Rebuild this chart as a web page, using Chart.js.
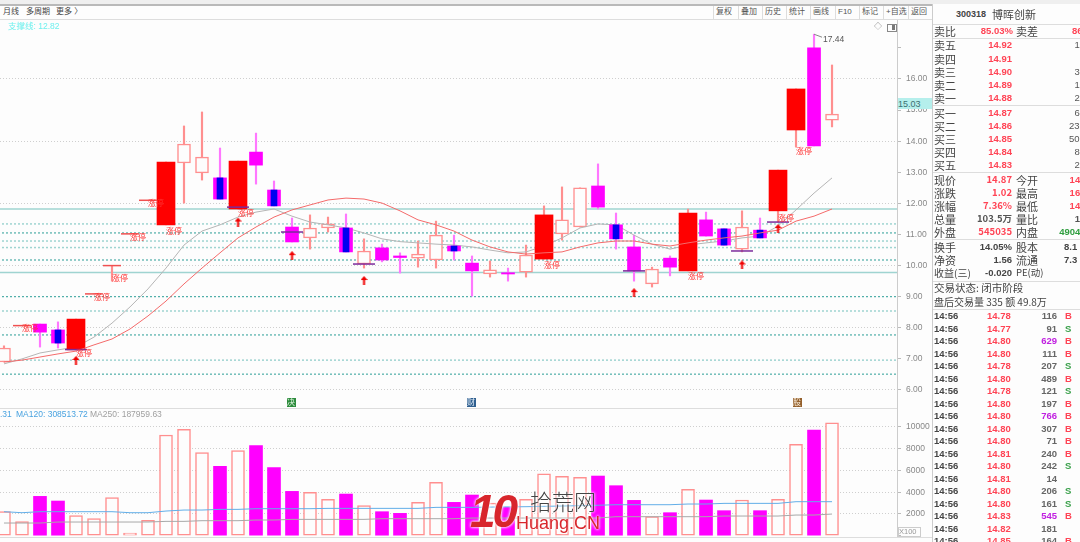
<!DOCTYPE html>
<html>
<head>
<meta charset="utf-8">
<script src="https://cdn.jsdelivr.net/npm/chart.js@4"></script>
<style>
  html, body { margin: 0; padding: 0; background: #fdfdfd; }
  body { width: 1080px; height: 542px; overflow: hidden; position: relative; font-family: "Liberation Sans", "Noto Sans CJK SC", sans-serif; }
  canvas { position: absolute; left: 0; }
  .t { position: absolute; white-space: nowrap; transform: translateY(-50%); line-height: 1; }
  .box { position: absolute; }
</style>
</head>
<body>
<div class="box" style="left:0;top:0;width:1080px;height:4px;background:#efefef"></div>
<div class="box" style="left:0;top:4px;width:932px;height:2px;background:#b9b9b9"></div>
<div class="box" style="left:0;top:19px;width:932px;height:1px;background:#ddd"></div>
<div class="box" style="left:0;top:408px;width:897px;height:1px;background:#ddd"></div>
<div class="box" style="left:0;top:537px;width:932px;height:1px;background:#ddd"></div>
<div class="box" style="left:932px;top:4px;width:1px;height:538px;background:#ccc"></div>
<canvas id="mainChart" width="932" height="388" style="top:20px"></canvas>
<canvas id="volChart" width="932" height="129" style="top:408px"></canvas>

<script>
// candles
const kinds = ['h','l','m','b','r','l','l','l','l','r','h','h','b','r','m','b','m','h','h','b','h','m','m','h','h','b','m','h','m','h','r','h','h','m','b','m','h','m','r','m','b','h','b','r','r','m','h'];
const opens = [6.90,8.07,8.12,7.93,7.29,9.09,10.0,11.02,12.1,11.31,13.30,12.98,12.82,11.82,13.65,12.43,11.24,10.89,11.21,11.21,10.05,10.57,10.31,10.24,10.18,10.63,10.08,9.73,9.77,9.79,10.21,11.02,11.24,12.56,11.31,10.60,9.41,10.24,9.83,11.47,11.18,10.53,11.14,11.76,14.36,17.00,14.68];
const closes = [7.35,8.07,7.86,7.51,8.28,9.09,10.0,11.02,12.1,13.33,13.91,13.49,12.14,13.36,13.23,11.92,10.76,11.21,11.34,10.44,10.47,10.18,10.26,10.37,10.98,10.47,9.83,9.86,9.73,10.34,11.63,11.47,12.50,11.88,10.86,9.83,9.89,9.95,11.69,10.95,10.66,11.24,10.89,13.07,15.68,13.85,14.87];
const highs = [7.42,8.07,8.12,8.19,8.28,9.09,10.0,11.02,12.1,13.33,14.49,14.94,13.78,13.36,14.26,12.72,11.53,11.63,11.56,11.66,10.86,10.69,10.41,10.79,11.43,10.98,10.31,10.15,9.92,10.66,11.92,12.53,12.50,13.27,11.69,10.98,9.95,10.31,11.82,11.72,11.18,11.76,11.53,13.07,15.68,17.44,16.45];
const lows = [6.90,8.07,7.38,7.35,7.29,9.09,9.50,11.02,12.1,11.31,12.01,12.75,12.14,11.82,12.62,11.92,10.76,10.53,11.08,10.44,9.92,10.12,9.76,9.95,9.92,10.18,9.02,9.63,9.50,9.63,10.21,10.82,11.24,11.82,10.53,9.50,9.31,9.67,9.83,10.95,10.66,10.44,10.89,11.40,13.81,13.85,14.46];
const grayLine = [6.84,7.00,7.19,7.29,7.38,7.70,8.15,8.67,9.25,9.92,10.66,11.11,11.31,11.56,11.72,11.82,11.59,11.40,11.31,11.21,11.05,10.86,10.77,10.73,10.69,10.66,10.60,10.50,10.41,10.44,10.63,10.89,11.21,11.34,11.31,10.98,10.69,10.53,10.66,10.73,10.79,10.89,10.95,11.27,11.79,12.33,12.82];
const redLine = [6.90,6.96,7.06,7.16,7.25,7.45,7.64,7.96,8.38,8.86,9.41,9.92,10.41,10.89,11.24,11.56,11.79,11.95,12.11,12.17,12.14,12.01,11.76,11.47,11.31,11.11,10.82,10.60,10.44,10.37,10.41,10.44,10.60,10.73,10.79,10.79,10.69,10.63,10.73,10.82,10.89,10.95,11.05,11.14,11.43,11.59,11.82];

// limit-up tags, arrows and purple marks
const limitIdx = [1,4,5,6,7,8,9,13,30,38,43,44];
const limitTagY = [8.00,7.19,8.99,9.60,10.92,12.01,11.11,11.69,10.02,9.67,11.53,13.68];
const arrowIdx = [4,13,16,20,35,41,43];
const arrowY = [6.95,11.40,10.32,9.52,9.13,10.02,11.19];
const markY = [7.30,11.88,11.08,10.05,9.83,10.47,11.40];

// horizontal levels
const solidLevels = [11.82,9.78];
const darkLevels = [11.05,10.18,9.0,7.77,6.51];
const lightLevels = [11.34,10.79,10.58,8.54,6.96];

// volume panel
const volTicks = [0,2000,4000,6000,8000,10000];
const volumes = [2207,1287,3617,3188,1839,1563,3494,245,1410,9256,9777,7632,6375,7816,8276,6253,4076,3985,3341,3831,2759,2207,2054,3065,4904,3065,3739,3000,2600,3341,5700,5456,5364,5486,4598,3249,1747,2115,4260,3280,2300,3280,2300,3341,8398,9716,10390];
const volUp = [1,1,0,0,1,1,1,1,1,1,1,1,0,1,0,0,0,1,1,0,1,0,0,1,1,0,0,1,0,1,1,1,1,0,0,0,1,0,1,0,0,1,0,1,1,0,1];
const ma120 = [2207,2115,2207,2207,2207,2207,2207,2115,2115,2268,2360,2360,2421,2421,2483,2483,2483,2483,2513,2513,2513,2513,2513,2513,2605,2605,2605,2630,2650,2667,2700,2730,2760,2800,2850,2850,2850,2850,2912,2912,2973,2973,2973,2973,3126,3126,3126];
const ma250 = [1165,1165,1165,1257,1257,1257,1257,1257,1257,1318,1318,1379,1379,1379,1441,1441,1502,1502,1502,1502,1502,1563,1563,1563,1563,1563,1624,1624,1624,1624,1624,1624,1624,1624,1747,1747,1747,1747,1747,1747,1808,1808,1808,1808,1900,1900,1992];

// side panel
const askRows = [['卖五','14.92','1'],['卖四','14.91',''],['卖三','14.90','3'],['卖二','14.89','1'],['卖一','14.88','2']];
const bidRows = [['买一','14.87','6'],['买二','14.86','23'],['买三','14.85','50'],['买四','14.84','8'],['买五','14.83','2']];
const quoteRows = [['现价','14.87','今开','14'],['涨跌','1.02','最高','16'],['涨幅','7.36%','最低','14'],['总量','103.5万','量比','1'],['外盘','545035','内盘','4904']];
const infoRows = [['换手','14.05%','股本','8.1'],['净资','1.56','流通','7.3'],['收益(三)','-0.020','PE(动)','']];
const trades = [['14.78','116','B'],['14.77','91','S'],['14.80','629','B'],['14.80','111','B'],['14.78','207','S'],['14.80','489','B'],['14.78','121','S'],['14.80','197','B'],['14.80','766','B'],['14.80','307','B'],['14.80','71','B'],['14.81','240','B'],['14.80','242','S'],['14.81','14',''],['14.80','206','S'],['14.80','161','S'],['14.83','545','B'],['14.82','181',''],['14.85','164','B']];
const toolButtons = ['复权','叠加','历史','统计','画线','F10','标记','+自选','返回'];

const RED = '#ff0000', PINK = '#ff8f8f', MAG = '#ff00ff', BLUE = '#0000f0', TEAL = '#2a9d96', CYAN = '#9fd4d1';
const allX = kinds.map((k, i) => i);

function pick(list, fn) {
  return allX.filter(i => list.includes(kinds[i])).map(fn);
}
const bodyOf = i => ({ x: i, y: [opens[i], closes[i]] });

function bars(data, color, width, order, border) {
  return {
    type: 'bar', data, backgroundColor: color, maxBarThickness: width, order,
    grouped: false, categoryPercentage: 1, barPercentage: 1,
    borderColor: border || color, borderWidth: border ? 1.5 : 0, borderSkipped: false
  };
}
function level(y, color, dash, width, order) {
  return { type: 'line', data: [{ x: -1, y }, { x: 51, y }], borderColor: color, borderDash: dash, borderWidth: width, pointRadius: 0, order };
}
function curve(values, color, order) {
  return { type: 'line', data: values.map((v, i) => ({ x: i, y: v })), borderColor: color, borderWidth: 1, pointRadius: 0, order };
}
function arrowImage() {
  const c = document.createElement('canvas');
  c.width = 7; c.height = 9;
  const g = c.getContext('2d');
  g.fillStyle = '#f00000';
  g.fillRect(2.5, 3, 2, 6);
  g.beginPath(); g.moveTo(3.5, 0); g.lineTo(7, 4); g.lineTo(0, 4); g.fill();
  return c;
}

// 涨停 tags and the high price note
const tagPlugin = {
  id: 'tags',
  afterDatasetsDraw(chart) {
    const g = chart.ctx, sx = chart.scales.x, sy = chart.scales.y;
    g.save();
    g.font = '8px "Noto Sans CJK SC"';
    g.fillStyle = '#ff3030';
    g.textBaseline = 'middle';
    limitIdx.forEach((idx, n) => {
      g.fillText('涨停', sx.getPixelForValue(idx), sy.getPixelForValue(limitTagY[n]));
    });
    const hx = sx.getPixelForValue(45), hy = sy.getPixelForValue(highs[45]);
    g.strokeStyle = '#888';
    g.beginPath(); g.moveTo(hx, hy); g.lineTo(hx + 8, hy + 3); g.stroke();
    g.fillStyle = '#555';
    g.font = '8.5px "Liberation Sans"';
    g.fillText('17.44', hx + 9, hy + 5);
    g.restore();
  }
};

// axis column is 35 wide and the plot keeps the full canvas height
const fixedWidth = (scale) => { scale.width = 35; scale.paddingTop = 0; scale.paddingBottom = 0; };
const axisFont = { family: 'Liberation Sans', size: 8.5 };
const xScale = { type: 'linear', display: false, offset: false, min: -0.222, max: 49.61 };

const mainChart = new Chart(document.getElementById('mainChart'), {
  data: {
    datasets: [
      ...solidLevels.map(v => level(v, CYAN, [], 1.5, 90)),
      ...darkLevels.map(v => level(v, TEAL, [2, 2], 1, 90)),
      ...lightLevels.map(v => level(v, CYAN, [2, 2], 1.5, 90)),
      bars(allX.map(i => ({ x: i, y: [lows[i], highs[i]] })), kinds.map(k => (k === 'm' || k === 'b') ? '#ff77ff' : PINK), 1.5, 80),
      bars(pick(['h'], bodyOf), '#fdfdfd', 13, 70, PINK),
      curve(grayLine, '#b5b5b5', 60),
      bars(pick(['r'], bodyOf), RED, 18, 50),
      bars(pick(['m', 'b'], bodyOf), MAG, 13, 40),
      bars(pick(['b'], bodyOf), BLUE, 6, 30),
      curve(redLine, '#f46a6a', 20),
      { type: 'line', showLine: false, data: pick(['l'], i => ({ x: i, y: opens[i] })), pointStyle: 'line', pointRadius: 9, pointBorderColor: '#f05050', pointBorderWidth: 1.5, order: 15 },
      { type: 'line', showLine: false, data: arrowIdx.map((i, n) => ({ x: i, y: markY[n] })), pointStyle: 'line', pointRadius: 11, pointBorderColor: '#7b2a9b', pointBorderWidth: 1.5, order: 10 },
      { type: 'line', showLine: false, data: arrowIdx.map((i, n) => ({ x: i, y: arrowY[n] })), pointStyle: arrowImage(), order: 5 }
    ]
  },
  options: {
    responsive: false, animation: false, events: [],
    layout: { padding: 0, autoPadding: false },
    plugins: { legend: { display: false }, tooltip: { enabled: false } },
    scales: {
      x: xScale,
      y: {
        position: 'right', min: 5.421, max: 17.897, afterFit: fixedWidth,
        border: { color: '#ccc', dash: [1, 2] },
        grid: { color: c => c.tick.value % 2 === 0 ? '#cfcfcf' : 'rgba(0,0,0,0)', tickColor: '#bbb', tickLength: 4, drawTicks: true },
        ticks: { stepSize: 1, includeBounds: false, autoSkip: false, font: axisFont, color: '#888', padding: 5, callback: v => v > 16 ? '' : v.toFixed(2) }
      }
    }
  },
  plugins: [tagPlugin]
});

const volChart = new Chart(document.getElementById('volChart'), {
  data: {
    datasets: [
      curve(ma250, '#a8a8a8', 2),
      curve(ma120, '#62aee8', 1),
      bars(allX.filter(i => !volUp[i]).map(i => ({ x: i, y: volumes[i] })), MAG, 13, 4),
      bars(allX.filter(i => volUp[i]).map(i => ({ x: i, y: volumes[i] })), '#fdfdfd', 13, 5, PINK)
    ]
  },
  options: {
    responsive: false, animation: false, events: [],
    layout: { padding: 0, autoPadding: false },
    plugins: { legend: { display: false }, tooltip: { enabled: false } },
    scales: {
      x: xScale,
      y: {
        position: 'right', min: -120, max: 11743, afterFit: fixedWidth,
        afterBuildTicks: s => { s.ticks = volTicks.map(value => ({ value })); },
        border: { color: '#ccc', dash: [1, 2] },
        grid: { color: c => c.tick.value > 0 ? '#cfcfcf' : 'rgba(0,0,0,0)', tickColor: '#bbb', tickLength: 4 },
        ticks: { autoSkip: false, font: axisFont, color: '#888', padding: 5, callback: v => v > 0 ? String(v) : '' }
      }
    }
  }
});

// text and small boxes round the charts
function text(x, y, s, color, size, extra) {
  const d = document.createElement('div');
  d.className = 't';
  d.textContent = s;
  d.style.cssText = `left:${x}px;top:${y}px;color:${color};font-size:${size}px;` + (extra || '');
  document.body.appendChild(d);
  return d;
}
function rightText(x, y, s, color, size, extra) {
  return text(0, y, s, color, size, `left:auto;right:${1080 - x}px;` + (extra || ''));
}
function rect(x, y, w, h, css) {
  const d = document.createElement('div');
  d.className = 'box';
  d.style.cssText = `left:${x}px;top:${y}px;width:${w}px;height:${h}px;` + css;
  document.body.appendChild(d);
  return d;
}

text(3, 12, '月线', '#444', 8);
text(26, 12, '多周期', '#444', 8);
text(56, 12, '更多 〉', '#444', 8);
const btnX = [713, 738, 762, 786, 810, 835, 859, 883, 908, 932];
toolButtons.forEach((b, i) => {
  rect(btnX[i], 6, 1, 13, 'background:#ddd');
  text(btnX[i] + 3, 12, b, '#555', 8);
});
text(8, 26, '支撑线: 12.82', '#6ff0ee', 8.5);
text(874, 27, '◇', '#777', 8);
rect(887, 24, 8, 6, 'border:1px solid #888;');
rect(892, 25, 3, 5, 'background:#777');
rect(898, 98, 34, 11, 'background:#b5efec');
text(898, 103.5, '15.03', '#3c6f72', 9);
text(0, 414, '.31', '#4aa3e0', 8.5);
text(16, 414, 'MA120: 308513.72', '#4aa3e0', 8.5);
text(90, 414, 'MA250: 187959.63', '#a0a0a0', 8.5);
rect(898, 527, 23, 10, 'border:1px solid #ccc;box-sizing:border-box');
text(899, 532, 'X100', '#999', 7.5);
rect(287, 398, 9, 9, 'background:#2d8b3d');
text(287, 402.5, '决', '#dff5df', 8);
rect(467, 398, 9, 9, 'background:#2f5f8f');
text(467, 402.5, '财', '#e4eef8', 8);
rect(793, 398, 9, 9, 'background:#94602c');
text(793, 402.5, '股', '#f8eddc', 8);

// watermark
text(470, 511, '10', '#d8262c', 46, 'font-weight:bold;font-style:italic;letter-spacing:-3px;text-shadow:0 0 3px #fff,0 0 3px #fff');
text(530, 500, '拾荒网', '#444', 22, 'font-family:"Noto Sans CJK SC";font-weight:300;text-shadow:0 0 3px #fff,0 0 3px #fff');
text(516, 523, 'Huang.CN', '#d8262c', 18, 'text-shadow:0 0 3px #fff,0 0 3px #fff');

// side panel
const panelLine = y => rect(933, y, 147, 1, 'background:#ddd');
[24, 38, 105, 172, 239, 281, 309].forEach(panelLine);
const cjk = 'font-family:"Noto Sans CJK SC";';
const num = 'font-weight:bold;';
text(956, 14, '300318', '#444', 9, num);
text(992, 14, '博晖创新', '#444', 11, cjk);
text(934, 31, '卖比', '#444', 11, cjk);
rightText(1013, 31, '85.03%', '#ff4455', 9.5, num);
text(1016, 31, '卖差', '#444', 11, cjk);
text(1072, 31, '86', '#ff4455', 9.5, num);

const bookY = [45, 59, 72, 85, 98, 113, 126, 139, 152, 165];
askRows.concat(bidRows).forEach((r, i) => {
  text(934, bookY[i], r[0], '#444', 11, cjk);
  rightText(1012, bookY[i], r[1], '#ff4455', 9.5, num);
  if (r[2]) text(1080 - r[2].length * 5.5, bookY[i], r[2], '#555', 9.5);
});
const quoteY = [180, 193, 206, 219, 232];
quoteRows.forEach((r, i) => {
  const c = (i < 3) ? '#ff4455' : (i === 4 ? '#ff4455' : '#555');
  text(934, quoteY[i], r[0], '#444', 11, cjk);
  rightText(1012, quoteY[i], r[1], c, 9.5, num + cjk);
  text(1016, quoteY[i], r[2], '#444', 11, cjk);
  text(1080 - r[3].length * 5.2, quoteY[i], r[3], i === 4 ? '#2f9e3f' : (i === 3 ? '#555' : '#ff4455'), 9.5, num);
});
const infoY = [247, 260, 273];
infoRows.forEach((r, i) => {
  text(934, infoY[i], r[0], '#444', i === 2 ? 10 : 11, cjk);
  rightText(1012, infoY[i], r[1], '#444', 9.5, num);
  text(1016, infoY[i], r[2], '#444', i === 2 ? 9.5 : 11, cjk);
  if (r[3]) text(1064, infoY[i], r[3], '#444', 9.5, num);
});
text(934, 288, '交易状态: 闭市阶段', '#444', 10.5, cjk);
text(934, 302, '盘后交易量 335 额 49.8万', '#444', 10, cjk);

trades.forEach((r, i) => {
  const y = 316 + i * 12.5;
  text(934, y, '14:56', '#444', 9.5, num);
  text(987, y, r[0], '#ff4455', 9.5, num);
  const big = Number(r[1]) >= 500;
  rightText(1057, y, r[1], big ? '#c020e0' : '#666', 9.5, num);
  if (r[2]) text(1065, y, r[2], r[2] === 'B' ? '#ff4455' : '#3aa04a', 9.5, num);
});
</script>
</body>
</html>
